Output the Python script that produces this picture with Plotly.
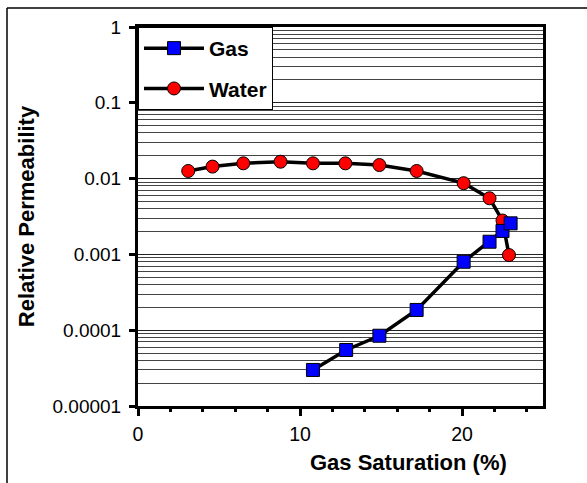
import plotly.graph_objects as go

# Data
water_sat = [3.1, 4.6, 6.5, 8.8, 10.8, 12.8, 14.9, 17.2, 20.1, 21.7, 22.5, 22.9]
water_kr = [0.0126, 0.0144, 0.0159, 0.0167, 0.0159, 0.0159, 0.0151, 0.0126,
            0.0087, 0.0055, 0.0028, 0.00098]
gas_sat = [10.8, 12.85, 14.9, 17.2, 20.1, 21.7, 22.5, 23.0]
gas_kr = [0.0000299, 0.0000548, 0.0000845, 0.000185, 0.0008, 0.00147, 0.00204, 0.00257]

y_tickvals = [1, 0.1, 0.01, 0.001, 0.0001, 0.00001]
y_ticktext = ["1", "0.1", "0.01", "0.001", "0.0001", "0.00001"]
x_tickvals = [0, 10, 20]
x_ticktext = ["0", "10", "20"]

FONT = "Arial, Liberation Sans, sans-serif"

minor_y = [m * 10.0 ** e for e in range(-5, 0) for m in range(2, 10)]

fig = go.Figure()
fig.add_trace(go.Scatter(
    x=water_sat, y=water_kr, name="Water", mode="lines+markers",
    legendgroup="w", legendrank=2,
    line=dict(color="black", width=3.5),
    marker=dict(symbol="circle", size=13, color="#FF0000", line=dict(color="black", width=1)),
))
fig.add_trace(go.Scatter(
    x=gas_sat, y=gas_kr, name="Gas", mode="lines+markers",
    legendgroup="g", legendrank=1,
    line=dict(color="black", width=3.5),
    marker=dict(symbol="square", size=13, color="#0000FF", line=dict(color="black", width=1)),
))

left_px, top_px = (7 - 138) / 405, (406 - 8) / 379

fig.update_layout(
    width=587, height=483,
    margin=dict(l=138, r=44, t=27, b=77),
    paper_bgcolor="white", plot_bgcolor="white",
    font=dict(family=FONT, color="black", size=19),
    showlegend=True,
    legend=dict(
        x=0, y=1, xanchor="left", yanchor="top",
        bgcolor="white", bordercolor="black", borderwidth=1,
        font=dict(family=FONT, size=21, color="black", weight="bold"),
        tracegroupgap=10, traceorder="grouped",
        itemwidth=60,
        entrywidth=83, entrywidthmode="pixels",
    ),
    xaxis=dict(
        range=[0, 25], tickvals=x_tickvals, ticktext=x_ticktext,
        showgrid=False, zeroline=False,
        showline=True, linecolor="black", linewidth=3, mirror=True,
        ticks="outside", ticklen=7, tickwidth=3, tickcolor="black",
        minor=dict(dtick=2, ticks="outside", ticklen=3, tickwidth=3, tickcolor="black", showgrid=False),
        tickfont=dict(size=19.5),
        ticklabelstandoff=2,
    ),
    xaxis2=dict(
        overlaying="x", anchor="y", side="bottom", range=[0, 25],
        tickvals=x_tickvals, showticklabels=False, showgrid=False, zeroline=False,
        showline=False, ticks="inside", ticklen=6, tickwidth=3, tickcolor="black",
        minor=dict(dtick=2, ticks="inside", ticklen=3, tickwidth=3, tickcolor="black", showgrid=False),
    ),
    yaxis=dict(
        type="log", range=[-5, 0],
        tickvals=y_tickvals, ticktext=y_ticktext,
        showgrid=True, gridcolor="#222222", gridwidth=1,
        minor=dict(tickvals=minor_y, showgrid=True, gridcolor="#444444", gridwidth=1, ticks=""),
        zeroline=False,
        showline=True, linecolor="black", linewidth=3, mirror=True,
        ticks="outside", ticklen=6, tickwidth=3, tickcolor="black",
        ticklabelstandoff=4,
        tickfont=dict(size=19),
        title=dict(text="<b>Relative Permeability</b>", font=dict(size=22), standoff=12),
    ),
    annotations=[dict(
        text="<b>Gas Saturation (%)</b>", xref="paper", yref="paper",
        x=(408 - 138) / 405, y=(406 - 462) / 379, xanchor="center", yanchor="middle",
        showarrow=False, font=dict(family=FONT, size=22, color="black"),
    )],
    shapes=[
        dict(type="line", xref="paper", yref="paper",
             x0=left_px, x1=left_px, y0=-0.3, y1=top_px,
             line=dict(color="black", width=1.5), layer="below"),
        dict(type="line", xref="paper", yref="paper",
             x0=left_px, x1=1.2, y0=top_px, y1=top_px,
             line=dict(color="black", width=1.5), layer="below"),
    ],
)

fig.write_html("out.html")
